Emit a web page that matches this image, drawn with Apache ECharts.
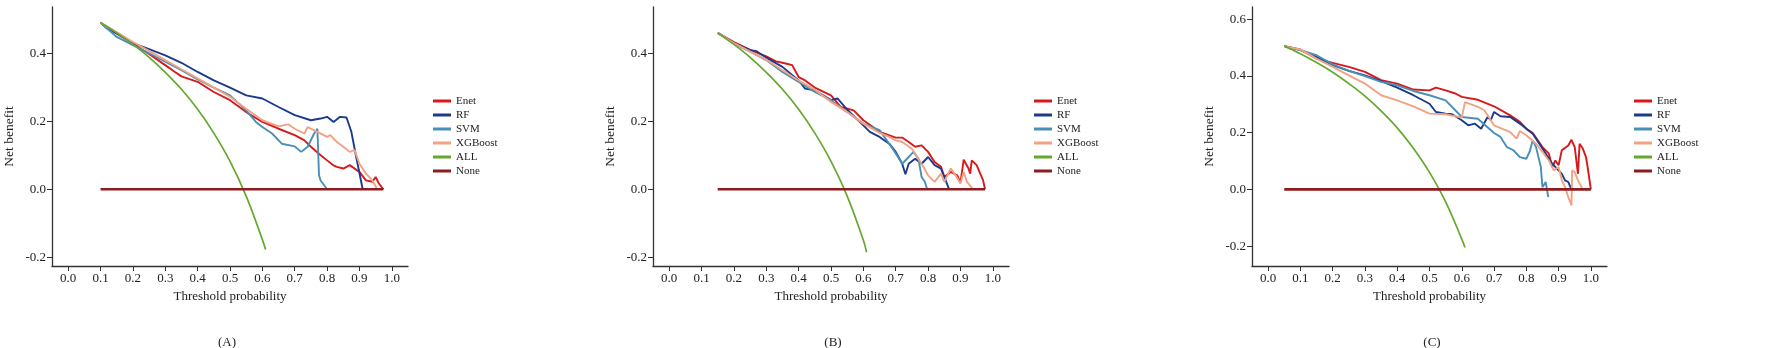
<!DOCTYPE html>
<html>
<head>
<meta charset="utf-8">
<script src="https://cdn.jsdelivr.net/npm/echarts@6/dist/echarts.min.js"></script>
<style>
  html, body { margin: 0; padding: 0; background: #fff; }
  #chart { width: 1772px; height: 348px; }
</style>
</head>
<body>
<div id="chart"></div>
<script>
// legend / series names
var names = ['Enet', 'RF', 'SVM', 'XGBoost', 'ALL', 'None'];
var colors = ['#D7191C', '#1B3A8C', '#4A8FB5', '#F2A283', '#64A92E', '#8E1B1E'];

var xTicks = [0, 0.1, 0.2, 0.3, 0.4, 0.5, 0.6, 0.7, 0.8, 0.9, 1.0];
var yTicksAB = [-0.2, 0, 0.2, 0.4];
var yTicksC = [-0.2, 0, 0.2, 0.4, 0.6];

// ---- panel (A) ----
var enetA = [[0.1,0.49],[0.15,0.458],[0.2,0.428],[0.25,0.398],[0.3,0.365],[0.33,0.345],[0.35,0.332],[0.4,0.316],[0.45,0.286],[0.5,0.262],[0.55,0.227],[0.6,0.198],[0.65,0.178],[0.7,0.159],[0.73,0.144],[0.75,0.125],[0.78,0.1],[0.8,0.085],[0.82,0.07],[0.83,0.066],[0.85,0.061],[0.87,0.071],[0.9,0.051],[0.92,0.026],[0.94,0.022],[0.95,0.036],[0.96,0.017],[0.974,0]];
var rfA = [[0.1,0.49],[0.12,0.473],[0.15,0.458],[0.2,0.43],[0.25,0.412],[0.3,0.394],[0.35,0.372],[0.4,0.345],[0.45,0.32],[0.5,0.299],[0.55,0.276],[0.6,0.267],[0.65,0.242],[0.7,0.218],[0.75,0.203],[0.78,0.208],[0.8,0.213],[0.82,0.198],[0.84,0.213],[0.86,0.211],[0.875,0.169],[0.89,0.095],[0.91,0]];
var svmA = [[0.1,0.49],[0.15,0.448],[0.2,0.424],[0.25,0.4],[0.3,0.375],[0.35,0.35],[0.4,0.323],[0.45,0.299],[0.5,0.276],[0.55,0.232],[0.58,0.198],[0.6,0.183],[0.63,0.164],[0.66,0.134],[0.7,0.126],[0.72,0.11],[0.74,0.125],[0.76,0.164],[0.77,0.178],[0.775,0.041],[0.78,0.026],[0.8,0]];
var xgbA = [[0.1,0.49],[0.15,0.462],[0.2,0.433],[0.25,0.407],[0.3,0.38],[0.35,0.353],[0.4,0.326],[0.45,0.299],[0.5,0.272],[0.55,0.237],[0.6,0.203],[0.65,0.185],[0.68,0.191],[0.7,0.178],[0.73,0.164],[0.74,0.183],[0.77,0.169],[0.8,0.154],[0.81,0.159],[0.83,0.139],[0.85,0.125],[0.87,0.11],[0.885,0.115],[0.9,0.075],[0.92,0.046],[0.94,0.026],[0.955,0]];
var allA = [[0.1,0.49],[0.15,0.46],[0.2,0.426],[0.25,0.388],[0.3,0.344],[0.35,0.294],[0.4,0.235],[0.45,0.165],[0.5,0.082],[0.55,-0.02],[0.6,-0.148],[0.61,-0.177]];
var noneA = [[0.1,0],[0.974,0]];

// ---- panel (B) ----
var enetB = [[0.15,0.46],[0.2,0.433],[0.25,0.41],[0.3,0.391],[0.33,0.376],[0.35,0.372],[0.38,0.365],[0.4,0.33],[0.42,0.32],[0.45,0.299],[0.5,0.276],[0.53,0.242],[0.57,0.232],[0.6,0.203],[0.65,0.169],[0.7,0.152],[0.72,0.152],[0.74,0.139],[0.76,0.125],[0.78,0.129],[0.8,0.11],[0.82,0.08],[0.84,0.066],[0.85,0.036],[0.87,0.051],[0.89,0.041],[0.9,0.019],[0.91,0.087],[0.925,0.061],[0.93,0.046],[0.935,0.085],[0.95,0.071],[0.97,0.026],[0.976,0]];
var rfB = [[0.15,0.46],[0.2,0.43],[0.25,0.409],[0.27,0.406],[0.3,0.387],[0.35,0.36],[0.4,0.32],[0.42,0.296],[0.45,0.291],[0.5,0.262],[0.52,0.267],[0.55,0.234],[0.6,0.188],[0.62,0.169],[0.65,0.154],[0.68,0.134],[0.7,0.11],[0.72,0.075],[0.73,0.044],[0.74,0.075],[0.76,0.09],[0.78,0.075],[0.8,0.095],[0.82,0.071],[0.84,0.061],[0.86,0.012],[0.865,0]];
var svmB = [[0.15,0.46],[0.2,0.428],[0.25,0.405],[0.3,0.38],[0.35,0.345],[0.4,0.316],[0.45,0.286],[0.5,0.262],[0.55,0.227],[0.6,0.193],[0.65,0.174],[0.68,0.134],[0.7,0.105],[0.72,0.075],[0.74,0.095],[0.755,0.11],[0.77,0.09],[0.78,0.036],[0.79,0.022],[0.797,0]];
var xgbB = [[0.15,0.46],[0.2,0.43],[0.25,0.405],[0.3,0.381],[0.35,0.35],[0.4,0.32],[0.45,0.293],[0.5,0.257],[0.55,0.227],[0.6,0.193],[0.65,0.166],[0.68,0.154],[0.7,0.144],[0.72,0.139],[0.75,0.119],[0.78,0.075],[0.8,0.041],[0.82,0.022],[0.84,0.046],[0.85,0.022],[0.87,0.061],[0.885,0.041],[0.9,0.017],[0.91,0.051],[0.92,0.022],[0.935,0.005],[0.937,0]];
var allB = [[0.15,0.46],[0.2,0.426],[0.25,0.388],[0.3,0.344],[0.35,0.294],[0.4,0.235],[0.45,0.165],[0.5,0.082],[0.55,-0.02],[0.6,-0.15],[0.61,-0.185]];
var noneB = [[0.15,0],[0.976,0]];

// ---- panel (C) ----
var enetC = [[0.05,0.505],[0.1,0.493],[0.15,0.461],[0.2,0.446],[0.25,0.432],[0.3,0.414],[0.35,0.385],[0.4,0.373],[0.45,0.352],[0.5,0.349],[0.52,0.359],[0.55,0.349],[0.58,0.338],[0.6,0.326],[0.65,0.316],[0.7,0.293],[0.75,0.261],[0.78,0.238],[0.8,0.214],[0.82,0.199],[0.85,0.149],[0.87,0.126],[0.88,0.079],[0.89,0.102],[0.9,0.085],[0.91,0.138],[0.93,0.155],[0.94,0.175],[0.95,0.149],[0.96,0.055],[0.965,0.161],[0.975,0.144],[0.985,0.114],[0.99,0.079],[1.0,0]];
var rfC = [[0.05,0.505],[0.1,0.491],[0.15,0.467],[0.2,0.438],[0.25,0.418],[0.3,0.402],[0.35,0.382],[0.4,0.359],[0.45,0.332],[0.5,0.302],[0.52,0.273],[0.55,0.267],[0.57,0.265],[0.6,0.244],[0.62,0.226],[0.64,0.232],[0.66,0.214],[0.68,0.255],[0.69,0.244],[0.7,0.273],[0.72,0.258],[0.75,0.255],[0.78,0.232],[0.8,0.214],[0.82,0.196],[0.85,0.144],[0.88,0.091],[0.9,0.067],[0.91,0.055],[0.92,0.032],[0.93,0.026],[0.94,0]];
var svmC = [[0.05,0.505],[0.1,0.491],[0.15,0.473],[0.2,0.441],[0.25,0.418],[0.3,0.399],[0.35,0.379],[0.4,0.367],[0.45,0.347],[0.5,0.332],[0.55,0.314],[0.58,0.279],[0.6,0.255],[0.65,0.249],[0.7,0.199],[0.72,0.185],[0.74,0.149],[0.76,0.138],[0.78,0.114],[0.8,0.108],[0.81,0.132],[0.82,0.173],[0.83,0.149],[0.845,0.079],[0.85,0.008],[0.86,0.026],[0.868,-0.027]];
var xgbC = [[0.05,0.505],[0.1,0.493],[0.15,0.461],[0.2,0.432],[0.25,0.402],[0.3,0.373],[0.35,0.332],[0.4,0.314],[0.45,0.293],[0.5,0.267],[0.55,0.265],[0.6,0.253],[0.61,0.308],[0.65,0.291],[0.67,0.279],[0.7,0.226],[0.75,0.202],[0.77,0.179],[0.78,0.206],[0.8,0.191],[0.83,0.161],[0.85,0.132],[0.87,0.102],[0.885,0.067],[0.9,0.079],[0.91,0.032],[0.92,0.008],[0.93,-0.027],[0.94,-0.056],[0.942,0.067],[0.95,0.061],[0.96,0.032],[0.975,0]];
var allC = [[0.05,0.505],[0.1,0.478],[0.15,0.447],[0.2,0.413],[0.25,0.373],[0.3,0.329],[0.35,0.277],[0.4,0.217],[0.45,0.145],[0.5,0.06],[0.55,-0.044],[0.6,-0.175],[0.61,-0.205]];
var noneC = [[0.05,0],[1.0,0]];

var panels = [
  {data: [enetA, rfA, svmA, xgbA, allA, noneA], left: 52, width: 356, ymin: -0.2256, ymax: 0.536, yTicks: yTicksAB, legendLeft: 428, cap: '(A)', capX: 222},
  {data: [enetB, rfB, svmB, xgbB, allB, noneB], left: 653, width: 356, ymin: -0.2256, ymax: 0.536, yTicks: yTicksAB, legendLeft: 1029, cap: '(B)', capX: 828},
  {data: [enetC, rfC, svmC, xgbC, allC, noneC], left: 1252, width: 355, ymin: -0.27, ymax: 0.643, yTicks: yTicksC, legendLeft: 1629, cap: '(C)', capX: 1427}
];

var font = '"Liberation Serif", "Times New Roman", serif';
var axisColor = '#333';

var grids = [], xAxes = [], yAxes = [], legends = [], titles = [], series = [];
panels.forEach(function (p, i) {
  grids.push({left: p.left, top: 7, width: p.width, height: 259, containLabel: false});
  xAxes.push({
    type: 'value', gridIndex: i, min: -0.05, max: 1.05,
    name: 'Threshold probability', nameLocation: 'middle', nameGap: 24,
    nameTextStyle: {fontFamily: font, fontSize: 13, color: '#222', verticalAlign: 'top'},
    axisLine: {show: true, onZero: false, lineStyle: {color: axisColor, width: 1.3}},
    axisTick: {show: true, length: 5, customValues: xTicks, lineStyle: {color: axisColor}},
    axisLabel: {customValues: xTicks, margin: 6, fontFamily: font, fontSize: 13, color: '#222',
      formatter: function (v) { return v.toFixed(1); }},
    splitLine: {show: false}
  });
  yAxes.push({
    type: 'value', gridIndex: i, min: p.ymin, max: p.ymax,
    name: 'Net benefit', nameLocation: 'middle', nameGap: 36,
    nameTextStyle: {fontFamily: font, fontSize: 13.5, color: '#222'},
    axisLine: {show: true, onZero: false, lineStyle: {color: axisColor, width: 1.3}},
    axisTick: {show: true, length: 5, customValues: p.yTicks, lineStyle: {color: axisColor}},
    axisLabel: {customValues: p.yTicks, margin: 6, fontFamily: font, fontSize: 13, color: '#222',
      formatter: function (v) { return v.toFixed(1); }},
    splitLine: {show: false}
  });
  legends.push({
    data: names, orient: 'vertical', left: p.legendLeft, top: 89,
    icon: 'rect', itemWidth: 18, itemHeight: 3, itemGap: 0,
    textStyle: {fontFamily: font, fontSize: 11, lineHeight: 14, color: '#222'}
  });
  titles.push({
    text: p.cap, left: p.capX, top: 331, textAlign: 'center',
    textStyle: {fontFamily: font, fontSize: 13, fontWeight: 'normal', color: '#222'}
  });
  p.data.forEach(function (d, k) {
    series.push({
      name: names[k], type: 'line', xAxisIndex: i, yAxisIndex: i,
      data: d, symbol: 'none', smooth: k === 4 ? 0.4 : false,
      lineStyle: {color: colors[k], width: k === 5 ? 2.6 : (k === 4 ? 1.7 : 1.9)},
      itemStyle: {color: colors[k]},
      z: k === 5 ? 3 : 2
    });
  });
});

var myChart = echarts.init(document.getElementById('chart'));
myChart.setOption({
  animation: false,
  backgroundColor: '#fff',
  title: titles,
  grid: grids,
  xAxis: xAxes,
  yAxis: yAxes,
  legend: legends,
  series: series
});
</script>
</body>
</html>
